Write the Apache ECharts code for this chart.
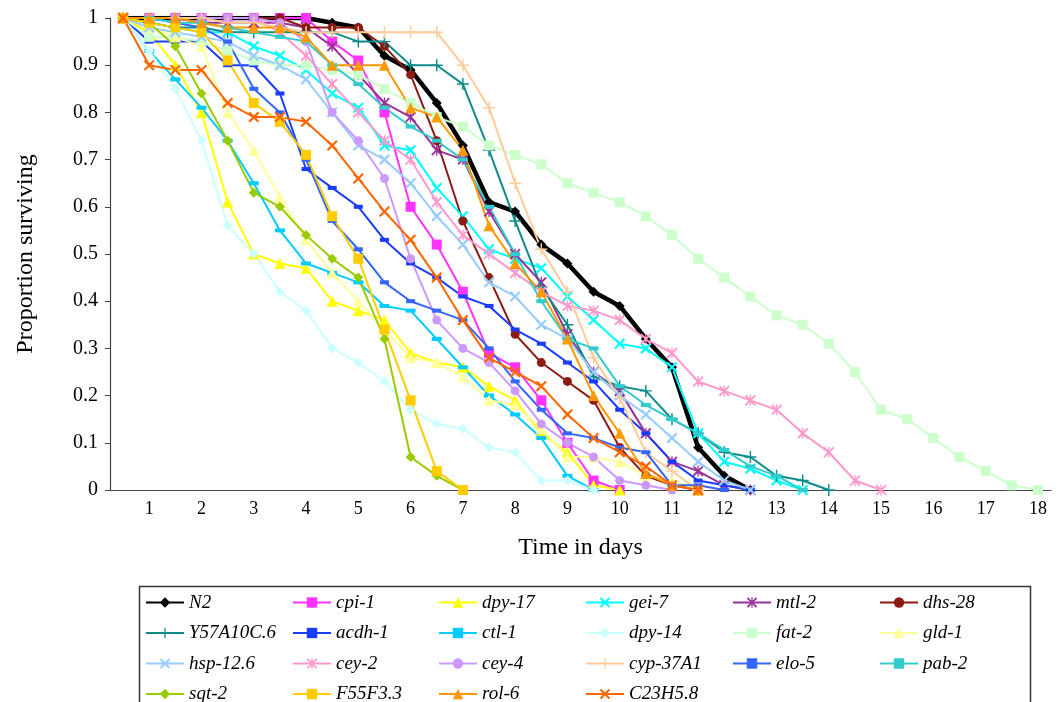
<!DOCTYPE html>
<html><head><meta charset="utf-8">
<script src="https://cdn.jsdelivr.net/npm/echarts@6/dist/echarts.min.js"></script>
<style>html,body{margin:0;padding:0;background:#fff}#c{width:1059px;height:702px}</style>
</head><body><div id="c"></div>
<script>
// Categories (days) and tick labels
const days = ['0.5','1','1.5','2','2.5','3','3.5','4','4.5','5','5.5','6','6.5','7','7.5','8','8.5','9','9.5','10','10.5','11','11.5','12','12.5','13','13.5','14','14.5','15','15.5','16','16.5','17','17.5','18'];
const yTicks = [0,0.1,0.2,0.3,0.4,0.5,0.6,0.7,0.8,0.9,1];

// Series values (proportion surviving), one value per half day starting at 0.5
const N2 = [1,1,1,1,1,1,1,1,0.99,0.98,0.92,0.89,0.82,0.73,0.61,0.59,0.52,0.48,0.42,0.39,0.32,0.26,0.09,0.03,0];
const cpi1 = [1,1,1,1,1,1,1,1,0.95,0.91,0.80,0.60,0.52,0.42,0.29,0.26,0.19,0.10,0.02,0];
const dpy17 = [1,0.97,0.90,0.80,0.61,0.50,0.48,0.47,0.40,0.38,0.36,0.29,0.27,0.26,0.22,0.19,0.12,0.08,0.01,0];
const gei7 = [1,0.99,0.98,0.97,0.97,0.94,0.92,0.89,0.84,0.81,0.73,0.72,0.64,0.58,0.51,0.49,0.47,0.41,0.36,0.31,0.30,0.26,0.12,0.06,0.045,0.02,0];
const mtl2 = [1,1,1,0.99,0.99,0.99,0.99,0.98,0.94,0.88,0.82,0.79,0.72,0.70,0.59,0.50,0.44,0.33,0.25,0.21,0.12,0.06,0.04,0.01,0];
const dhs28 = [1,1,1,1,1,1,1,0.98,0.98,0.98,0.94,0.88,0.74,0.57,0.45,0.33,0.27,0.23,0.19,0.09,0.03,0.01,0];
const Y57A10C6 = [1,0.99,0.98,0.98,0.97,0.97,0.97,0.97,0.97,0.95,0.95,0.90,0.90,0.86,0.72,0.57,0.43,0.35,0.24,0.22,0.21,0.15,0.12,0.08,0.07,0.03,0.02,0];
const acdh1 = [1,0.95,0.95,0.95,0.90,0.90,0.84,0.68,0.64,0.60,0.53,0.48,0.45,0.41,0.39,0.34,0.31,0.27,0.23,0.17,0.12,0.06,0.02,0.01,0];
const ctl1 = [1,0.93,0.87,0.81,0.74,0.65,0.55,0.48,0.46,0.44,0.39,0.38,0.32,0.26,0.20,0.16,0.11,0.03,0];
const dpy14 = [1,0.93,0.85,0.74,0.56,0.50,0.42,0.38,0.30,0.27,0.23,0.17,0.14,0.13,0.09,0.08,0.02,0.02,0];
const fat2 = [1,0.96,0.96,0.95,0.93,0.91,0.90,0.90,0.89,0.88,0.85,0.82,0.79,0.77,0.73,0.71,0.69,0.65,0.63,0.61,0.58,0.54,0.49,0.45,0.41,0.37,0.35,0.31,0.25,0.17,0.15,0.11,0.07,0.04,0.01,0];
const gld1 = [1,0.98,0.96,0.94,0.80,0.72,0.62,0.53,0.46,0.40,0.34,0.28,0.27,0.24,0.19,0.18,0.13,0.07,0.07,0.06,0.03,0.02,0];
const hsp126 = [1,0.98,0.97,0.96,0.95,0.92,0.90,0.87,0.80,0.73,0.70,0.65,0.58,0.52,0.44,0.41,0.35,0.32,0.25,0.20,0.16,0.11,0.06,0.02,0];
const cey2 = [1,1,1,1,1,1,0.97,0.92,0.86,0.80,0.74,0.70,0.61,0.54,0.50,0.46,0.42,0.39,0.38,0.36,0.32,0.29,0.23,0.21,0.19,0.17,0.12,0.08,0.02,0];
const cey4 = [1,1,1,1,1,1,0.99,0.95,0.80,0.74,0.66,0.49,0.36,0.30,0.27,0.21,0.14,0.10,0.07,0.02,0.01,0];
const cyp37A1 = [1,1,1,1,0.99,0.99,0.98,0.97,0.97,0.97,0.97,0.97,0.97,0.90,0.81,0.65,0.51,0.42,0.28,0.195,0.08,0.04,0];
const elo5 = [1,1,0.99,0.98,0.95,0.85,0.80,0.70,0.57,0.51,0.44,0.40,0.38,0.36,0.30,0.23,0.17,0.12,0.11,0.09,0.08,0.01,0.01,0];
const pab2 = [1,1,0.99,0.99,0.98,0.97,0.96,0.95,0.90,0.86,0.81,0.77,0.74,0.70,0.60,0.50,0.40,0.32,0.30,0.22,0.18,0.15,0.12,0.085,0.05,0.03,0];
const sqt2 = [1,0.99,0.94,0.84,0.74,0.63,0.60,0.54,0.49,0.45,0.32,0.07,0.03,0];
const F55F33 = [1,0.99,0.98,0.97,0.91,0.82,0.78,0.71,0.58,0.49,0.34,0.19,0.04,0];
const rol6 = [1,1,1,0.99,0.98,0.98,0.98,0.96,0.90,0.90,0.90,0.81,0.79,0.72,0.56,0.48,0.42,0.32,0.20,0.12,0.035,0.01,0];
const C23H58 = [1,0.90,0.89,0.89,0.82,0.79,0.79,0.78,0.73,0.66,0.59,0.53,0.45,0.36,0.28,0.25,0.22,0.16,0.11,0.08,0.05,0.01,0];

// Marker shapes
const X = 'path://M0,1.4L1.4,0L5,3.6L8.6,0L10,1.4L6.4,5L10,8.6L8.6,10L5,6.4L1.4,10L0,8.6L3.6,5Z';
const STAR = 'path://M0,1.2L1.2,0L5,3.8L8.8,0L10,1.2L6.2,5L10,8.8L8.8,10L5,6.2L1.2,10L0,8.8L3.8,5Z M4.4,0H5.6V10H4.4Z';
const PLUS = 'path://M4.4,0H5.6V4.4H10V5.6H5.6V10H4.4V5.6H0V4.4H4.4Z';

// name, data, color, symbol, symbolSize, lineWidth
const seriesDefs = [
  ['N2', N2, '#000000', 'diamond', 10, 4.5],
  ['cpi-1', cpi1, '#FF33FF', 'rect', 10, 2],
  ['dpy-17', dpy17, '#FFFF00', 'triangle', 11, 2],
  ['gei-7', gei7, '#00FFFF', X, 11, 2],
  ['mtl-2', mtl2, '#993399', STAR, 11, 2],
  ['dhs-28', dhs28, '#8C1C13', 'circle', 9, 2],
  ['Y57A10C.6', Y57A10C6, '#0E8C8C', PLUS, 12, 2],
  ['acdh-1', acdh1, '#1A3CFF', 'rect', [9,4], 2],
  ['ctl-1', ctl1, '#00CCFF', 'rect', [10,4], 2],
  ['dpy-14', dpy14, '#CCFFFF', 'diamond', 10, 2],
  ['fat-2', fat2, '#CCFFCC', 'rect', 10, 2],
  ['gld-1', gld1, '#FFFF99', 'triangle', 11, 2],
  ['hsp-12.6', hsp126, '#99CCFF', X, 11, 2],
  ['cey-2', cey2, '#FF99CC', STAR, 11, 2],
  ['cey-4', cey4, '#CC99FF', 'circle', 9, 2],
  ['cyp-37A1', cyp37A1, '#FFCC99', PLUS, 12, 2],
  ['elo-5', elo5, '#3366FF', 'rect', [9,4], 2],
  ['pab-2', pab2, '#33CCCC', 'rect', [10,4], 2],
  ['sqt-2', sqt2, '#99CC00', 'diamond', 10, 2],
  ['F55F3.3', F55F33, '#FFCC00', 'rect', 10, 2],
  ['rol-6', rol6, '#FF9900', 'triangle', 11, 2],
  ['C23H5.8', C23H58, '#FF6600', X, 11, 2]
];

const legendCols = [
  ['N2','Y57A10C.6','hsp-12.6','sqt-2'],
  ['cpi-1','acdh-1','cey-2','F55F3.3'],
  ['dpy-17','ctl-1','cey-4','rol-6'],
  ['gei-7','dpy-14','cyp-37A1','C23H5.8'],
  ['mtl-2','fat-2','elo-5'],
  ['dhs-28','gld-1','pab-2']
];
const legendX = [145, 292, 438, 585, 732, 879];

const FONT = '"Liberation Serif","Times New Roman",serif';

const chart = echarts.init(document.getElementById('c'), null, {renderer: 'canvas'});
chart.setOption({
  animation: false,
  backgroundColor: '#fff',
  grid: {left: 110, right: 8, top: 18, bottom: 212, containLabel: false},
  xAxis: {
    type: 'category',
    data: days,
    boundaryGap: true,
    name: 'Time in days',
    nameLocation: 'middle',
    nameGap: 46,
    nameTextStyle: {fontFamily: FONT, fontSize: 24, color: '#000'},
    axisLine: {lineStyle: {color: '#444', width: 1.2}},
    axisTick: {interval: 0, length: 5, lineStyle: {color: '#444'}},
    axisLabel: {
      interval: function (i) { return i % 2 === 1; },
      fontFamily: FONT, fontSize: 18, color: '#000', margin: 10
    },
    splitLine: {show: false}
  },
  yAxis: {
    type: 'value',
    min: yTicks[0], max: yTicks[yTicks.length - 1], interval: 0.1,
    name: 'Proportion surviving',
    nameLocation: 'middle',
    nameGap: 72,
    nameTextStyle: {fontFamily: FONT, fontSize: 24, color: '#000'},
    axisLine: {show: true, lineStyle: {color: '#444', width: 1.2}},
    axisTick: {show: true, length: 5, lineStyle: {color: '#444'}},
    axisLabel: {fontFamily: FONT, fontSize: 20, color: '#000', margin: 12},
    splitLine: {show: false}
  },
  legend: legendCols.map((col, k) => ({
    orient: 'vertical',
    left: legendX[k],
    top: 593,
    height: 200,
    width: 150,
    data: col,
    itemWidth: 38,
    itemHeight: 13,
    itemGap: 11.5,
    selectedMode: false,
    padding: 0,
    textStyle: {fontFamily: FONT, fontStyle: 'italic', fontSize: 19, color: '#000'}
  })),
  graphic: [{
    type: 'rect',
    shape: {x: 139.5, y: 586.5, width: 891, height: 140},
    style: {fill: 'none', stroke: '#333', lineWidth: 1.5},
    silent: true
  }],
  series: seriesDefs.map(d => ({
    name: d[0],
    type: 'line',
    data: d[1],
    symbol: d[3],
    symbolSize: d[4],
    showAllSymbol: true,
    connectNulls: false,
    lineStyle: {color: d[2], width: d[5]},
    itemStyle: {color: d[2], borderWidth: 0},
    emphasis: {disabled: true}
  }))
});
</script>
</body></html>
